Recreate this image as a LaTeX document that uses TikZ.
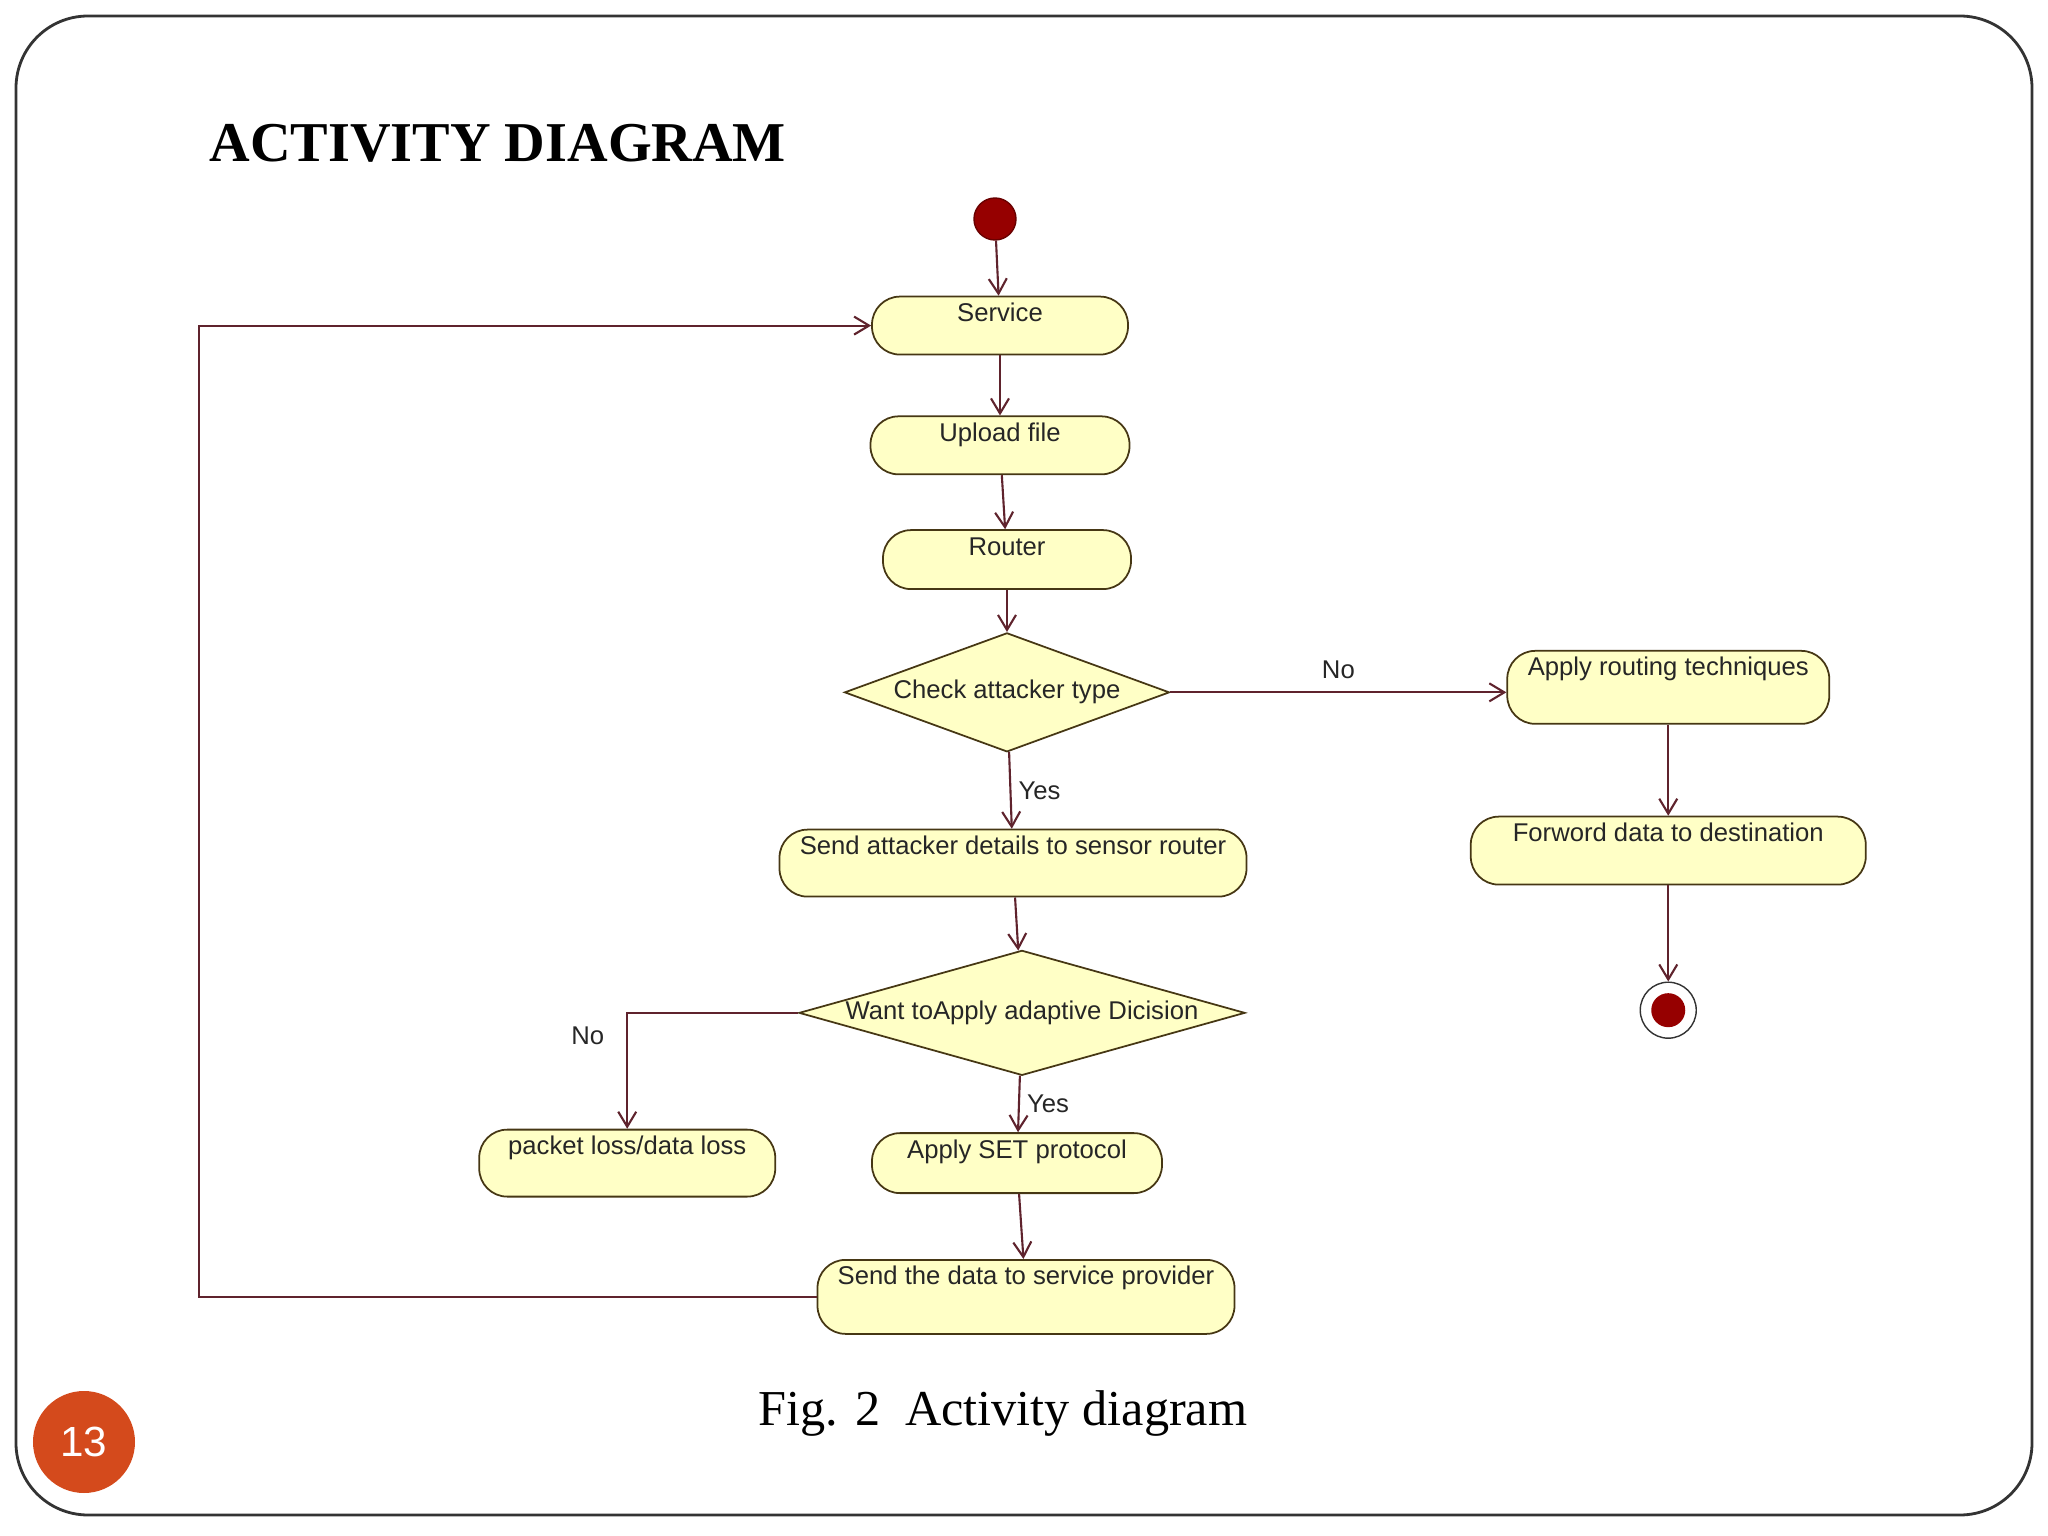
\documentclass[tikz,border=0pt]{standalone}
\usepackage{fontspec}
\setmainfont{Liberation Serif}
\setsansfont{Liberation Sans}
\usepackage{tikz}
\usetikzlibrary{shapes.geometric, positioning, arrows.meta}

\definecolor{actfill}{RGB}{255,255,198}
\definecolor{actline}{RGB}{70,55,20}
\definecolor{flowline}{RGB}{95,35,45}
\definecolor{dotred}{RGB}{150,0,0}
\definecolor{pagenum}{RGB}{212,74,28}

\newcommand{\diagfont}{\sffamily\fontsize{7.3}{8.8}\selectfont}

\begin{document}
\begin{tikzpicture}[>={Straight Barb[length=1.5mm,width=1.8mm]},
    act/.style={rectangle, rounded corners=0.28cm, draw=actline, fill=actfill, line width=0.5pt,
                inner sep=0pt, text height=0.25cm, text=black!85, font=\diagfont},
    capsule/.style 2 args={minimum width=#1cm, text depth=#2cm},
    decision/.style={diamond, draw=actline, fill=actfill, line width=0.5pt,
                inner sep=0pt, text=black!85, font=\diagfont},
    startdot/.style={circle, fill=dotred, draw=dotred!70!black, inner sep=0pt, minimum size=0.42cm},
    enddot/.style={circle, draw=black!80, fill=white, line width=0.4pt, inner sep=0pt, minimum size=0.56cm,
                path picture={\fill[dotred] (path picture bounding box.center) circle (0.17cm);}},
    flow/.style={->, draw=flowline, line width=0.6pt},
    guard/.style={font=\diagfont, text=black!85, inner sep=2pt}]
    \useasboundingbox (0,0) rectangle (20.48,-15.36);

    % slide frame, title and page number
    \draw[black!80, line width=0.8pt, rounded corners=0.72cm] (0.16,-0.16) rectangle (20.32,-15.15);
    \node[anchor=base west, inner sep=0pt, font=\bfseries\fontsize{16}{19}\selectfont] (title) at (2.09,-1.62) {ACTIVITY DIAGRAM};
    \node[circle, fill=pagenum, minimum size=1.02cm, inner sep=0pt, text=white,
          font=\sffamily\fontsize{12}{14}\selectfont] (pagenum) at (0.84,-14.42) {13};

    % main column
    \node[startdot] (start) at (9.95,-2.19) {};
    \node[act, capsule={2.56}{0.33}, below=0.55cm of start, xshift=0.05cm] (service) {Service};
    \node[act, capsule={2.59}{0.33}, below=0.60cm of service] (upload) {Upload file};
    \node[act, capsule={2.48}{0.34}, below=0.54cm of upload, xshift=0.07cm] (router) {Router};
    \node[decision, aspect=2.73, minimum width=3.25cm, minimum height=1.19cm, below=0.42cm of router] (check) {Check attacker type};
    \node[act, capsule={4.67}{0.42}, below=0.76cm of check, xshift=0.06cm] (sad) {Send attacker details to sensor router};
    \node[decision, aspect=3.57, minimum width=4.46cm, minimum height=1.25cm, below=0.52cm of sad, xshift=0.09cm] (adaptive) {Want toApply adaptive Dicision};
    \node[act, capsule={2.90}{0.35}, below=0.56cm of adaptive, xshift=-0.05cm] (setp) {Apply SET protocol};
    \node[act, capsule={4.17}{0.49}, below=0.65cm of setp, xshift=0.09cm] (senddata) {Send the data to service provider};
    \node[act, capsule={2.96}{0.42}, left=0.95cm of setp] (packet) {packet loss/data loss};

    % right branch
    \node[act, capsule={3.22}{0.48}, right=3.36cm of check, yshift=0.05cm] (routing) {Apply routing techniques};
    \node[act, capsule={3.95}{0.43}, below=0.91cm of routing] (forword) {Forword data to destination};
    \node[enddot, below=0.96cm of forword] (end) {};

    \draw[flow] (start) -- (service);
    \draw[flow] (service) -- (upload);
    \draw[flow] (upload) -- (router);
    \draw[flow] (router) -- (check);
    \draw[flow] (check) -- node[guard, right] {Yes} (sad);
    \draw[flow] (check.east) -- node[guard, above=0.06cm] {No} (check.east -| routing.west);
    \draw[flow] (routing) -- (forword);
    \draw[flow] (forword) -- (end);
    \draw[flow] (sad) -- (adaptive);
    \draw[flow] (adaptive) -- node[guard, right] {Yes} (setp);
    \draw[flow] (adaptive.west) -| node[guard, pos=0.6, left=0.15cm] {No} (packet.north);
    \draw[flow] (setp) -- (senddata);
    \draw[flow] (senddata.west) -- ++(-6.18,0) |- (service.west);

    \node[anchor=base, font=\fontsize{14.3}{17}\selectfont] (caption) at (10.03,-14.25) {Fig. 2~~Activity diagram};
\end{tikzpicture}
\end{document}
